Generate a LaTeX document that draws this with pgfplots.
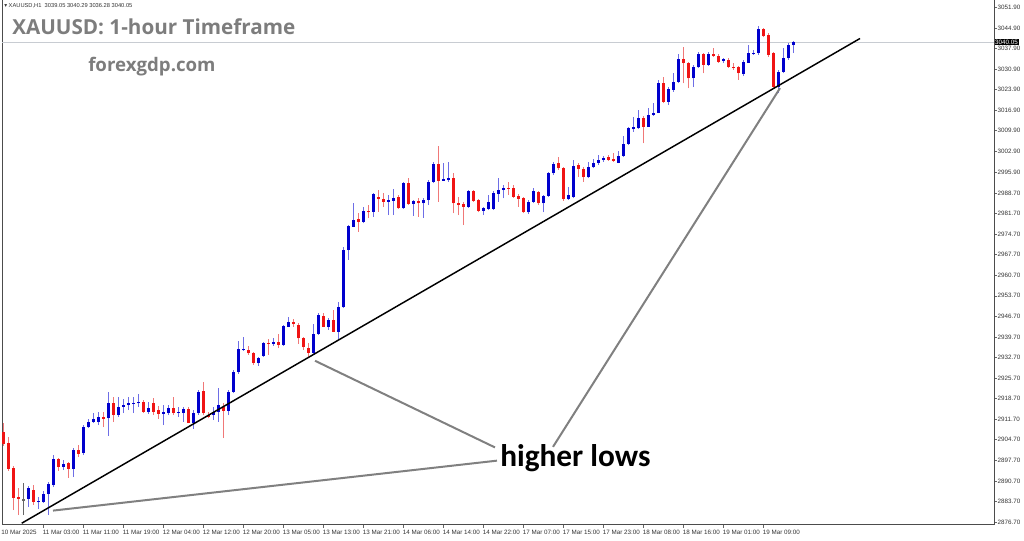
\documentclass[border=0pt]{standalone}
\usepackage{fontspec}
\setmainfont{Liberation Sans}
\newfontfamily\titlefont{Open Sans}
\newfontfamily\calib{Carlito}
\newfontfamily\dejavu{DejaVu Sans}
\usepackage{pgfplots}
\usepackage{pgfplotstable}
\pgfplotsset{compat=1.18}

\definecolor{bullbody}{RGB}{0,0,205}
\definecolor{bullwick}{RGB}{110,110,230}
\definecolor{bearbody}{RGB}{240,20,20}
\definecolor{bearwick}{RGB}{240,120,120}
\definecolor{notegray}{RGB}{128,128,128}
\definecolor{titlegray}{RGB}{125,125,125}
\definecolor{bidline}{RGB}{200,204,210}
\newcommand\ticklabfont{\fontsize{4.7pt}{5pt}\selectfont}
\pgfplotsset{
    candle/.style={draw=none, no markers, forget plot,
        error bars/.cd, y dir=plus, y explicit, error mark=none,
        error bar style={draw=#1}},
}

% XAUUSD H1 candles, bar index i (10 Mar 19:00 = 0)
% blue = close above open
\pgfplotstableread{
i o h l c
5 2884.5 2889.0 2881.8 2888.3
7 2883.4 2885.2 2881.1 2883.8
8 2883.5 2887.4 2883.2 2886.2
9 2886.2 2890.4 2879.1 2889.6
10 2889.3 2899.5 2888.6 2898.1
12 2895.4 2897.8 2894.4 2896.5
14 2894.8 2901.9 2892.0 2901.2
16 2900.2 2909.7 2899.5 2909.0
17 2909.0 2911.8 2908.7 2910.7
18 2910.7 2913.8 2910.4 2911.8
19 2910.7 2914.2 2909.7 2912.5
21 2912.1 2920.9 2906.0 2917.2
23 2913.1 2919.3 2912.5 2915.9
24 2915.9 2918.6 2913.8 2916.5
25 2916.5 2919.3 2914.8 2917.1
26 2916.9 2919.3 2913.8 2917.3
27 2917.1 2920.3 2915.9 2917.6
29 2914.1 2917.6 2913.6 2915.5
32 2913.5 2916.5 2909.7 2914.0
33 2913.8 2916.5 2913.1 2915.5
35 2913.9 2915.9 2912.6 2914.3
36 2913.9 2915.9 2910.8 2915.2
38 2910.5 2914.8 2908.4 2913.8
39 2913.8 2921.6 2913.1 2920.9
42 2913.1 2915.9 2911.4 2914.2
43 2914.2 2922.2 2910.8 2916.5
45 2914.6 2921.6 2913.1 2921.1
46 2921.1 2928.5 2920.5 2927.9
47 2927.9 2938.4 2927.1 2935.5
48 2935.3 2939.8 2935.0 2935.6
51 2930.8 2933.0 2929.8 2932.4
52 2933.2 2938.1 2933.0 2937.7
54 2937.3 2939.2 2936.6 2938.1
56 2937.0 2943.8 2936.6 2943.4
57 2943.2 2946.6 2943.0 2944.9
62 2934.3 2944.1 2933.9 2940.7
63 2940.7 2947.9 2940.4 2947.2
65 2943.2 2946.1 2942.1 2945.5
67 2941.5 2951.7 2938.7 2950.0
68 2949.8 2970.4 2949.5 2969.3
69 2969.3 2977.8 2965.9 2977.5
70 2977.2 2985.2 2977.0 2979.5
72 2978.9 2984.0 2978.4 2982.6
74 2982.3 2988.6 2980.6 2988.3
77 2985.7 2988.0 2981.2 2986.2
78 2986.1 2990.0 2981.2 2987.1
80 2983.5 2992.6 2983.3 2992.2
82 2984.9 2986.3 2981.0 2986.0
84 2985.2 2987.1 2980.3 2986.3
85 2986.3 2993.1 2984.6 2992.6
86 2992.6 2999.4 2992.0 2998.5
88 2992.9 2998.8 2992.8 2993.4
89 2993.0 2999.2 2992.6 2993.7
93 2984.1 2989.7 2983.7 2989.4
96 2982.6 2984.0 2981.2 2983.7
97 2983.3 2988.0 2982.9 2985.7
98 2983.3 2989.4 2982.9 2988.6
99 2988.3 2993.7 2985.7 2989.7
100 2989.7 2991.4 2986.9 2990.5
105 2982.1 2986.3 2981.5 2985.7
106 2985.7 2990.3 2985.2 2989.4
108 2985.2 2988.0 2982.1 2987.8
109 2987.8 2996.0 2987.4 2995.4
110 2995.4 2999.4 2994.8 2998.6
113 2986.6 2990.8 2986.3 2988.0
114 2987.3 2999.9 2986.9 2997.9
117 2994.0 2999.4 2993.7 2997.4
118 2997.4 3000.2 2997.1 2999.0
119 2999.0 3001.6 2998.2 2999.9
120 2999.9 3001.3 2999.4 3000.7
123 2999.0 3003.1 2998.8 3001.3
124 3001.3 3008.1 3000.9 3005.4
125 3005.4 3011.3 3005.0 3010.7
126 3010.4 3014.5 3009.6 3011.1
127 3010.7 3017.0 3010.4 3014.1
129 3011.3 3017.5 3011.1 3015.3
130 3015.3 3019.2 3014.9 3016.0
131 3016.0 3027.2 3015.8 3026.2
133 3019.8 3024.9 3018.7 3024.0
134 3023.8 3029.7 3023.2 3026.6
135 3026.6 3036.0 3026.0 3034.2
138 3027.7 3032.3 3024.7 3031.5
139 3031.5 3036.8 3031.2 3036.0
141 3032.3 3036.8 3031.9 3036.0
144 3033.7 3034.6 3032.9 3034.2
148 3029.2 3034.0 3028.5 3033.4
149 3033.1 3039.1 3032.9 3036.3
150 3036.0 3037.4 3035.7 3036.5
151 3036.3 3045.5 3035.7 3044.4
155 3024.9 3030.6 3022.6 3030.0
156 3030.0 3038.0 3029.4 3034.6
157 3034.6 3039.9 3034.0 3039.1
158 3039.05 3040.29 3036.28 3040.05
}\upbars

% red = close below open
\pgfplotstableread{
i o h l c
0 2907.3 2910.4 2902.6 2903.3
1 2903.6 2905.6 2894.1 2894.8
2 2895.1 2895.8 2880.8 2884.9
3 2885.2 2888.3 2879.1 2884.5
6 2887.6 2889.3 2882.5 2883.5
11 2898.1 2898.5 2894.1 2895.4
13 2896.8 2897.1 2891.7 2894.8
15 2901.2 2902.9 2898.8 2899.9
20 2912.5 2914.2 2909.0 2911.9
22 2917.2 2919.3 2910.7 2913.1
28 2917.6 2918.2 2913.8 2914.1
30 2917.2 2918.9 2913.1 2914.1
31 2914.8 2916.2 2911.9 2913.5
34 2915.5 2919.4 2913.1 2913.8
37 2915.2 2916.0 2910.3 2910.4
40 2921.3 2924.4 2913.1 2913.8
41 2913.1 2914.2 2912.0 2912.5
44 2916.0 2917.2 2905.3 2914.6
49 2935.3 2936.6 2933.6 2934.1
50 2934.2 2934.7 2930.2 2930.8
53 2937.7 2938.9 2933.6 2937.3
55 2938.1 2940.7 2935.8 2937.0
58 2944.9 2945.7 2943.2 2944.1
59 2943.8 2944.4 2937.3 2939.2
60 2939.2 2939.8 2935.3 2936.2
61 2935.8 2937.5 2932.8 2934.3
64 2946.9 2947.7 2943.0 2943.2
66 2945.5 2948.9 2941.3 2941.5
71 2979.7 2982.0 2975.5 2978.9
73 2982.6 2984.6 2980.1 2982.1
75 2987.4 2989.7 2982.3 2986.6
76 2986.6 2988.6 2984.0 2985.7
79 2987.4 2988.0 2983.3 2983.5
81 2992.0 2993.9 2984.6 2984.9
83 2986.0 2986.9 2980.6 2985.2
87 2998.5 3004.7 2985.7 2992.8
90 2993.7 2995.4 2981.8 2985.2
91 2985.4 2987.4 2981.2 2984.6
92 2984.9 2985.7 2977.8 2984.1
94 2989.4 2989.7 2985.7 2986.0
95 2986.3 2986.6 2982.1 2982.6
101 2990.5 2992.6 2988.0 2990.2
102 2990.3 2991.4 2987.1 2987.4
103 2987.7 2988.3 2984.0 2986.6
104 2986.9 2987.4 2981.8 2982.1
107 2989.1 2989.4 2984.6 2985.2
111 2998.8 3001.1 2996.5 2997.1
112 2997.1 2997.7 2986.0 2986.6
115 2998.2 2999.0 2994.2 2996.8
116 2996.8 2997.7 2992.6 2994.0
121 3000.9 3001.6 2999.7 2999.9
122 3000.2 3002.2 2999.4 2999.7
128 3014.1 3014.9 3005.6 3011.3
132 3026.2 3028.3 3019.2 3019.8
136 3034.2 3038.3 3026.0 3032.9
137 3032.9 3033.4 3024.3 3027.7
140 3036.0 3036.3 3029.4 3032.3
142 3036.0 3038.0 3035.1 3035.3
143 3035.3 3036.0 3033.1 3033.4
145 3034.0 3034.6 3031.3 3031.7
146 3031.7 3033.0 3030.6 3031.2
147 3031.6 3031.9 3027.2 3029.4
152 3044.4 3044.9 3041.7 3042.1
153 3042.5 3043.1 3035.1 3035.7
154 3036.3 3036.8 3024.3 3024.9
}\downbars

% doji
\pgfplotstableread{
i o h l c
4 2884.0 2890.0 2879.1 2884.4
}\dojibars

\begin{document}
\begin{tikzpicture}
\useasboundingbox (0,0) rectangle (768pt,405.75pt);
\begin{axis}[
    at={(1.5pt,12pt)}, anchor=south west,
    scale only axis, width=744pt, height=393.75pt,
    xmin=-0.3, xmax=198.1, ymin=2875.7, ymax=3054.4,
    axis line style={black!70, line width=0.75pt},
    tick align=outside, major tick length=2.2pt,
    tick style={black!60, line width=0.5pt},
    xtick pos=bottom, ytick pos=right, yticklabel pos=right,
    xtick={8,16,...,152},
    xticklabels={11 Mar 03:00,11 Mar 11:00,11 Mar 19:00,12 Mar 04:00,12 Mar 12:00,12 Mar 20:00,13 Mar 05:00,13 Mar 13:00,13 Mar 21:00,14 Mar 06:00,14 Mar 14:00,14 Mar 22:00,17 Mar 07:00,17 Mar 15:00,17 Mar 23:00,18 Mar 08:00,18 Mar 16:00,19 Mar 01:00,19 Mar 09:00},
    extra x ticks={-0.3}, extra x tick labels={10 Mar 2025},
    extra x tick style={tick style={draw=none}},
    ytick={2876.7,2883.7,2890.7,2897.7,2904.7,2911.7,2918.7,2925.7,2932.7,2939.7,2946.7,2953.7,2960.7,2967.7,2974.7,2981.7,2988.7,2995.9,3002.9,3009.9,3016.9,3023.9,3030.9,3037.9,3044.9,3051.9},
    yticklabel={\pgfmathprintnumber[fixed,fixed zerofill,precision=2,1000 sep={},assume math mode=true]{\tick}},
    x tick label style={font=\ticklabfont, text=black!80, anchor=north west, inner sep=0pt, xshift=-0.6pt, yshift=-1.8pt},
    y tick label style={font=\ticklabfont, text=black!80, anchor=west, inner sep=0pt, xshift=0.4pt},
]
% bid line
\addplot[bidline, line width=0.75pt, forget plot] coordinates {(-0.3,3040.05) (198.1,3040.05)};

% wicks
\addplot[candle=bullwick, error bar style={line width=0.75pt}]
  table[x=i, y=l, y error expr=\thisrow{h}-\thisrow{l}] {\upbars};
\addplot[candle=bearwick, error bar style={line width=0.75pt}]
  table[x=i, y=l, y error expr=\thisrow{h}-\thisrow{l}] {\downbars};
\addplot[candle=black!60, error bar style={line width=0.75pt}]
  table[x=i, y=l, y error expr=\thisrow{h}-\thisrow{l}] {\dojibars};

% bodies
\addplot[candle=bullbody, error bar style={line width=2.4pt}]
  table[x=i, y=o, y error expr=\thisrow{c}-\thisrow{o}] {\upbars};
\addplot[candle=bearbody, error bar style={line width=2.4pt}]
  table[x=i, y=c, y error expr=\thisrow{o}-\thisrow{c}] {\downbars};
\addplot[candle=black!60, error bar style={line width=2.4pt}]
  table[x=i, y=o, y error expr=\thisrow{c}-\thisrow{o}] {\dojibars};

% trend line
\addplot[black, line width=1.1pt, forget plot] coordinates {(3.64,2876.3) (171.3,3041.3)};

% pointers to the higher lows
\draw[notegray, line width=1.5pt] (axis cs:62.3,2931.6) -- (axis cs:98.3,2902.1);
\draw[notegray, line width=1.5pt] (axis cs:9.9,2880.6) -- (axis cs:98.7,2897.6);
\draw[notegray, line width=1.5pt] (axis cs:109.9,2902.3) -- (axis cs:155.3,3024.4);

\coordinate (bid) at (axis cs:198.1,3040.05);
\end{axis}

\node[anchor=west, fill=black, text=white, font=\ticklabfont, inner sep=0.5pt, xshift=0.2pt] at (bid) {3040.05};

\node[anchor=west, inner sep=0pt, font=\fontsize{4.3pt}{5pt}\selectfont, text=black!80] at (3pt,401.25pt)
  {{\dejavu ▾} XAUUSD,H1\ \ 3039.05 3040.29 3036.28 3040.05};
\node[anchor=base west, inner sep=0pt, text=titlegray, font=\titlefont\bfseries\fontsize{15.5pt}{17pt}\selectfont] at (9pt,379.5pt) {XAUUSD: 1-hour Timeframe};
\node[anchor=base west, inner sep=0pt, text=titlegray, font=\titlefont\bfseries\fontsize{14pt}{16pt}\selectfont] at (66pt,351.75pt) {forexgdp.com};
\node[anchor=base west, inner sep=0pt, text=black, font=\calib\bfseries\fontsize{23.5pt}{26pt}\selectfont] at (375pt,55.5pt) {higher lows};
\end{tikzpicture}
\end{document}
